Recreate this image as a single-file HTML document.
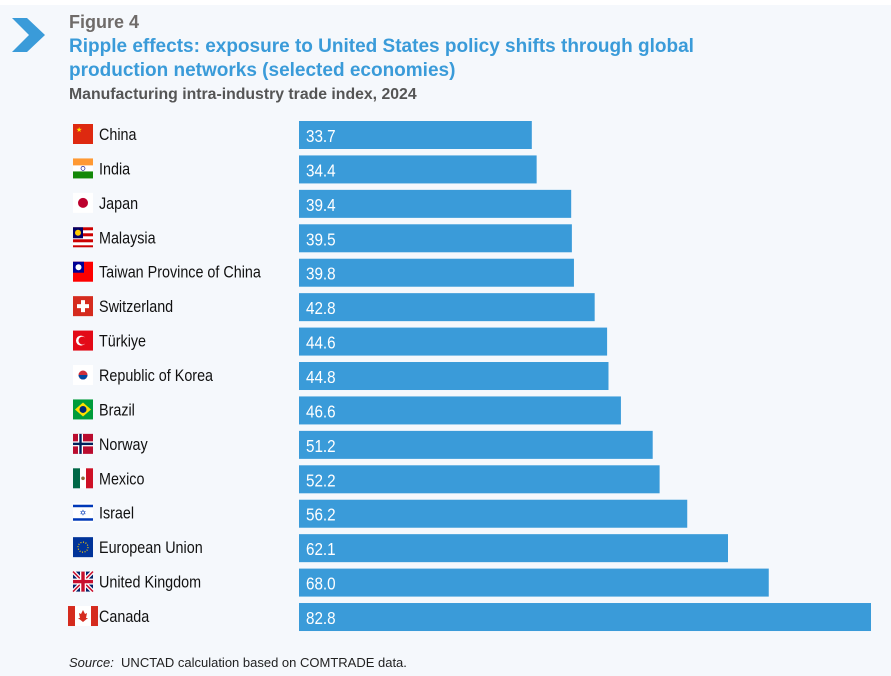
<!DOCTYPE html>
<html><head><meta charset="utf-8"><style>
body{margin:0;width:891px;height:676px;overflow:hidden;background:#fff;font-family:"Liberation Sans",sans-serif}
#bg{position:absolute;left:0;top:5px;width:891px;height:671px;background:#f5f8fc}
.t{position:absolute;white-space:nowrap}
</style></head><body>
<div id="bg"></div>
<svg class="t" style="left:10px;top:16px" width="38" height="38"><polygon points="2,2 17,2 35,19 17,36 2,36 19,19" fill="#3a9bd9"/></svg>
<div class="t" style="left:69px;top:12px;font-size:18px;font-weight:bold;color:#6f6b69">Figure 4</div>
<div class="t" style="left:69px;top:35px;font-size:19px;font-weight:bold;color:#3a9bd9;line-height:24px">Ripple effects: exposure to United States policy shifts through global<br>production networks (selected economies)</div>
<div class="t" style="left:69px;top:86px;font-size:15.8px;font-weight:bold;color:#555">Manufacturing intra-industry trade index, 2024</div>
<svg id="chart" class="t" style="left:0;top:0" width="891" height="676"></svg>
<div class="t" style="left:69px;top:655px;font-size:13px;color:#222"><i>Source:</i>&nbsp; UNCTAD calculation based on COMTRADE data.</div>
<script>
const categories=["China","India","Japan","Malaysia","Taiwan Province of China","Switzerland","Türkiye","Republic of Korea","Brazil","Norway","Mexico","Israel","European Union","United Kingdom","Canada"];
const values=[33.7,34.4,39.4,39.5,39.8,42.8,44.6,44.8,46.6,51.2,52.2,56.2,62.1,68.0,82.8];
const labels=["33.7","34.4","39.4","39.5","39.8","42.8","44.6","44.8","46.6","51.2","52.2","56.2","62.1","68.0","82.8"];
const svg=document.getElementById('chart');const NS="http://www.w3.org/2000/svg";
const x0=299,sx=(871-299)/82.8,y0=121,pitch=34.43,bh=28;
const xs=v=>x0+v*sx, ys=i=>y0+i*pitch;
const flags={
China:'<rect width="20" height="20" fill="#de2910"/><text x="3" y="8" font-size="7" fill="#ffde00">★</text>',
India:'<rect width="20" height="7" fill="#f93"/><rect y="7" width="20" height="6" fill="#fff"/><rect y="13" width="20" height="7" fill="#138808"/><circle cx="10" cy="10" r="2" fill="none" stroke="#008" stroke-width=".6"/>',
Japan:'<rect width="20" height="20" fill="#fff"/><circle cx="10" cy="10" r="5" fill="#bc002d"/>',
Malaysia:'<rect width="20" height="20" fill="#cc0001"/><rect y="3" width="20" height="3" fill="#fff"/><rect y="9" width="20" height="3" fill="#fff"/><rect y="15" width="20" height="3" fill="#fff"/><rect width="10" height="11" fill="#010066"/><circle cx="5" cy="5.5" r="3" fill="#fc0"/>',
"Taiwan Province of China":'<rect width="20" height="20" fill="#fe0000"/><rect width="11" height="11" fill="#000095"/><circle cx="5.5" cy="5.5" r="3" fill="#fff"/>',
Switzerland:'<rect width="20" height="20" fill="#d52b1e"/><rect x="8" y="4" width="4" height="12" fill="#fff"/><rect x="4" y="8" width="12" height="4" fill="#fff"/>',
"Türkiye":'<rect width="20" height="20" fill="#e30a17"/><circle cx="8" cy="10" r="5" fill="#fff"/><circle cx="9.5" cy="10" r="4" fill="#e30a17"/>',
"Republic of Korea":'<rect width="20" height="20" fill="#fff"/><circle cx="10" cy="10" r="4.5" fill="#cd2e3a"/><path d="M5.5 10a4.5 4.5 0 0 0 9 0" fill="#0047a0"/>',
Brazil:'<rect width="20" height="20" fill="#009c3b"/><polygon points="10,3 18,10 10,17 2,10" fill="#ffdf00"/><circle cx="10" cy="10" r="3.5" fill="#002776"/>',
Norway:'<rect width="20" height="20" fill="#ba0c2f"/><rect x="5" width="5" height="20" fill="#fff"/><rect y="7.5" width="20" height="5" fill="#fff"/><rect x="6.3" width="2.4" height="20" fill="#00205b"/><rect y="8.8" width="20" height="2.4" fill="#00205b"/>',
Mexico:'<rect width="7" height="20" fill="#006847"/><rect x="7" width="6" height="20" fill="#fff"/><rect x="13" width="7" height="20" fill="#ce1126"/><circle cx="10" cy="10" r="1.8" fill="#8c6b3a"/>',
Israel:'<rect width="20" height="20" fill="#fff"/><rect y="2" width="20" height="2.5" fill="#0038b8"/><rect y="15.5" width="20" height="2.5" fill="#0038b8"/><text x="10" y="13" font-size="8" fill="#0038b8" text-anchor="middle">✡</text>',
"European Union":'<rect width="20" height="20" fill="#039"/><circle cx="10" cy="10" r="5" fill="none" stroke="#fc0" stroke-width="1.2" stroke-dasharray="1 1.6"/>',
"United Kingdom":'<rect width="20" height="20" fill="#012169"/><path d="M0 0L20 20M20 0L0 20" stroke="#fff" stroke-width="4"/><path d="M0 0L20 20M20 0L0 20" stroke="#c8102e" stroke-width="1.5"/><rect x="7" width="6" height="20" fill="#fff"/><rect y="7" width="20" height="6" fill="#fff"/><rect x="8.3" width="3.4" height="20" fill="#c8102e"/><rect y="8.3" width="20" height="3.4" fill="#c8102e"/>',
Canada:'<rect x="-5" width="7" height="20" fill="#d52b1e"/><rect x="2" width="16" height="20" fill="#fff"/><rect x="18" width="7" height="20" fill="#d52b1e"/><polygon points="10,4 12,8 14,7 13,12 15,12 10,16 5,12 7,12 6,7 8,8" fill="#d52b1e"/>'
};
categories.forEach((c,i)=>{
 const y=ys(i);
 const g=document.createElementNS(NS,'g');g.setAttribute('transform',`translate(73,${y+3})`);g.innerHTML=flags[c]||'';
 
 
 svg.appendChild(g);
 const t=document.createElementNS(NS,'text');t.setAttribute('x',0);t.setAttribute('y',0);t.textContent=c;
 t.setAttribute('transform',`translate(99,${y+19}) scale(0.87,1)`);
 t.setAttribute('font-size','16.5');t.setAttribute('fill','#111');
 
 
 svg.appendChild(t);
 const r=document.createElementNS(NS,'rect');r.setAttribute('x',x0);r.setAttribute('y',y);r.setAttribute('width',xs(values[i])-x0);r.setAttribute('height',bh);r.setAttribute('fill','#3a9bd9');
 
 
 svg.appendChild(r);
 const v=document.createElementNS(NS,'text');v.setAttribute('x',0);v.setAttribute('y',0);v.textContent=labels[i];
 v.setAttribute('transform',`translate(306,${y+21}) scale(0.87,1)`);
 v.setAttribute('font-size','17.5');v.setAttribute('fill','#fff');
 
 
 svg.appendChild(v);
});
</script>
</body></html>
